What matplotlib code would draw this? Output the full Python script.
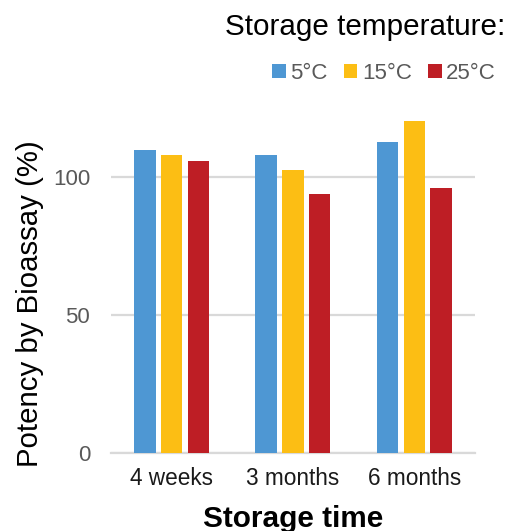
import matplotlib.pyplot as plt
import numpy as np

plt.rcParams['font.family'] = ['Liberation Sans', 'DejaVu Sans']

times = ["4 weeks", "3 months", "6 months"]
temps = ["5°C", "15°C", "25°C"]
potency_5c = [109.6, 107.8, 112.5]
potency_15c = [107.8, 102.5, 120.1]
potency_25c = [105.6, 93.6, 95.8]
colors = ["#4E97D3", "#FCBE14", "#BE1E25"]

fig = plt.figure(figsize=(5.15, 5.31), dpi=100)
ax = fig.add_axes([0.2155, 0.1474, 0.7068, 0.6291])

x = np.arange(len(times))
step = 0.22
for i, (vals, lab, c) in enumerate(zip([potency_5c, potency_15c, potency_25c], temps, colors)):
    ax.bar(x + (i - 1) * step, vals, width=0.178, color=c, label=lab, zorder=3)

ax.set_xlim(-0.5, 2.5)
ax.set_ylim(0, 121)
ax.set_yticks([0, 50, 100])
ax.set_xticks(x)
ax.set_xticklabels(times)
ax.grid(axis='y', color='#D9D9D9', linewidth=1.6, zorder=0)
for s in ['top', 'right', 'left']:
    ax.spines[s].set_visible(False)
ax.spines['bottom'].set_color('#D9D9D9')
ax.spines['bottom'].set_linewidth(1.6)
ax.tick_params(axis='y', length=0, pad=15, labelsize=16, labelcolor='#595959')
ax.tick_params(axis='x', length=0, pad=10, labelsize=16.3, labelcolor='#1A1A1A')

fig.text(30 / 515, 0.4275, "Potency by Bioassay (%)", rotation=90,
         ha='center', va='center', fontsize=21.2)
fig.text(0.569, 0.0075, "Storage time", ha='center', va='baseline',
         fontsize=21.4, fontweight='bold')
fig.text(0.9806, 0.934, "Storage temperature:", ha='right', va='baseline',
         fontsize=21.3)

fig.legend(loc='center right', bbox_to_anchor=(0.963, 0.862), ncol=3,
           frameon=False, fontsize=16, labelcolor='#595959',
           handlelength=0.6, handleheight=0.6, handletextpad=0.2,
           columnspacing=0.75, borderaxespad=0, borderpad=0)

fig.savefig("out.png", dpi=100)
